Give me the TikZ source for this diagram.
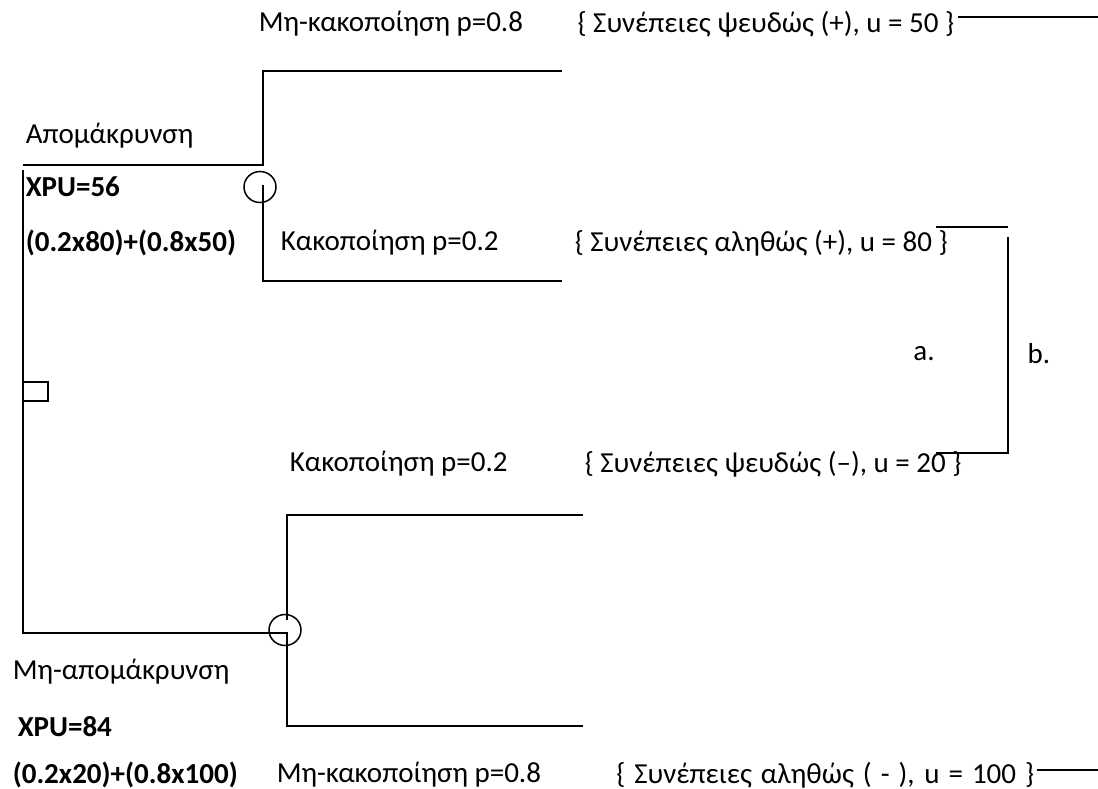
\documentclass[tikz,border=0pt]{standalone}
\usepackage{fontspec}
\setmainfont{Carlito}
\usepackage{tikz}
\usetikzlibrary{shapes}

\begin{document}
\begin{tikzpicture}[line width=1.5bp,
  lbl/.style={inner sep=0pt,anchor=west,font=\fontsize{29bp}{34bp}\selectfont},
  lblr/.style={lbl,anchor=east},
  val/.style={lbl,font=\fontsize{29bp}{34bp}\selectfont\bfseries},
  chance/.style={draw,ellipse,inner sep=0pt,minimum width=32bp,minimum height=31bp}]

\useasboundingbox (0bp,0bp) rectangle (1098bp,-789bp);

% decision and chance nodes
\node (D) at (35.5bp,-391.5bp)[draw,inner sep=0pt,minimum width=25bp,minimum height=19bp] {};
\node (C1) at (260bp,-187bp)[chance] {};
\node (C2) at (285bp,-630bp)[chance] {};

\coordinate (A1) at (263bp,-165bp);
\coordinate (A2) at (287bp,-633bp);
\coordinate (E1) at (562bp,-71bp);
\coordinate (E2) at (562bp,-281bp);
\coordinate (E3) at (583bp,-515bp);
\coordinate (E4) at (583bp,-726bp);

% tree
\draw (23bp,-165bp) -- (A1) |- (E1);
\draw (263bp,-185bp) |- (E2);
\draw (23bp,-170bp) |- (A2) |- (E4);
\draw (287bp,-620bp) |- (E3);

% labels
\node (Aup) at (25bp,-136bp)[lbl] {Απομάκρυνση};
\node (X56) at (25bp,-187bp)[val] {XPU=56};
\node (F56) at (25bp,-243bp)[val] {(0.2x80)+(0.8x50)};
\node (Aup2) at (12bp,-672bp)[lbl] {Μη-απομάκρυνση};
\node (X84) at (17bp,-727bp)[val] {XPU=84};
\node (F84) at (12bp,-775bp)[val] {(0.2x20)+(0.8x100)};

\node (P1) at (258bp,-24bp)[lbl] {Μη-κακοποίηση p=0.8};
\node (P2) at (280bp,-243bp)[lbl] {Κακοποίηση p=0.2};
\node (P3) at (289bp,-464bp)[lbl] {Κακοποίηση p=0.2};
\node (P4) at (276bp,-775bp)[lbl] {Μη-κακοποίηση p=0.8};

\node (U50) at (955bp,-24bp)[lblr] {\{ Συνέπειες ψευδώς (+), u = 50 \}};
\node (U80) at (574bp,-243bp)[lbl] {\{ Συνέπειες αληθώς (+), u = 80 \}};
\node (U20) at (584bp,-464bp)[lbl] {\{ Συνέπειες ψευδώς (–), u = 20 \}};
\node (U100) at (1035bp,-775bp)[lblr] {\makebox[418bp][s]{\{ Συνέπειες αληθώς ( - ), u = 100 \}}};

\coordinate (R1) at (1098bp,-17bp);
\coordinate (R2) at (1098bp,-770bp);
\draw (U50.east |- R1) ++(3bp,0) -- (R1);
\draw (U100.east |- R2) ++(2bp,0) -- (R2);

% bracket
\coordinate (B1) at (936bp,-227bp);
\coordinate (B2) at (936bp,-453bp);
\draw (B1) -- (1008bp,-227bp);
\draw (1008bp,-237bp) |- (B2);
\node (a) at (924bp,-354bp)[lbl,anchor=center] {a.};
\node (b) at (1039bp,-354bp)[lbl,anchor=center] {b.};
\end{tikzpicture}
\end{document}
